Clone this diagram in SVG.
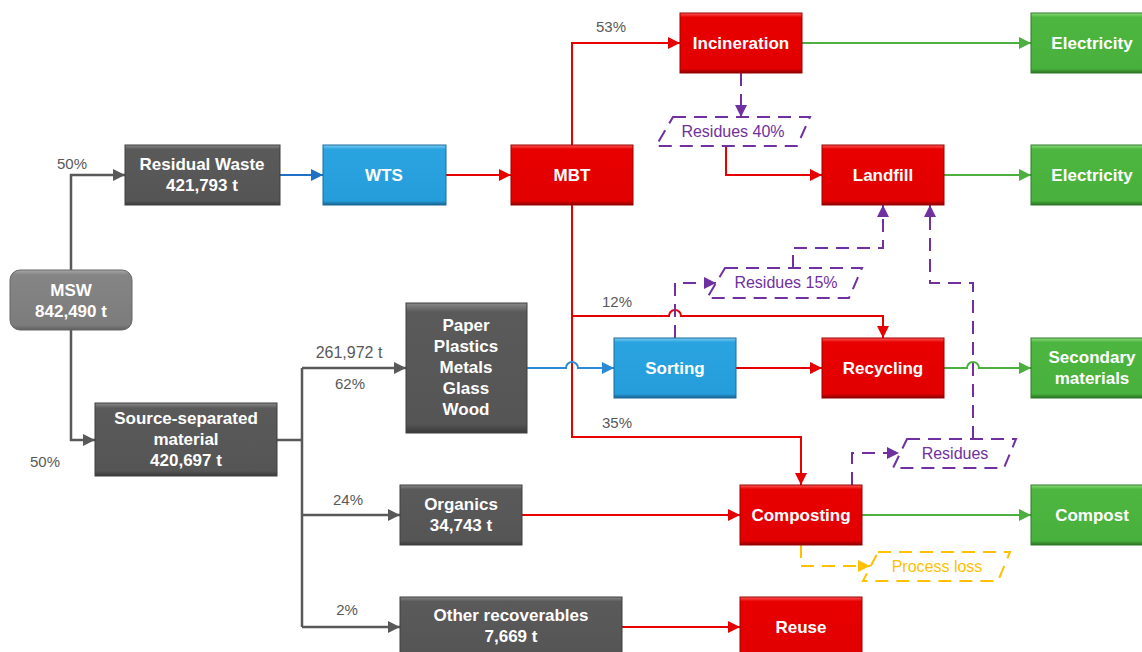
<svg xmlns="http://www.w3.org/2000/svg" width="1142" height="652" viewBox="0 0 1142 652">
<defs>
<linearGradient id="gGray" x1="0" y1="0" x2="0" y2="1">
<stop offset="0" stop-color="#8a8a8a"/><stop offset="0.07" stop-color="#5a5a5a"/><stop offset="0.93" stop-color="#555555"/><stop offset="1" stop-color="#3a3a3a"/>
</linearGradient>
<linearGradient id="gMsw" x1="0" y1="0" x2="0" y2="1">
<stop offset="0" stop-color="#a8a8a8"/><stop offset="0.08" stop-color="#858585"/><stop offset="0.92" stop-color="#7c7c7c"/><stop offset="1" stop-color="#5e5e5e"/>
</linearGradient>
<linearGradient id="gRed" x1="0" y1="0" x2="0" y2="1">
<stop offset="0" stop-color="#ff5a5a"/><stop offset="0.07" stop-color="#e80000"/><stop offset="0.93" stop-color="#e20000"/><stop offset="1" stop-color="#8a0000"/>
</linearGradient>
<linearGradient id="gBlue" x1="0" y1="0" x2="0" y2="1">
<stop offset="0" stop-color="#7fcdf2"/><stop offset="0.07" stop-color="#2aa4e0"/><stop offset="0.93" stop-color="#259ddb"/><stop offset="1" stop-color="#16628e"/>
</linearGradient>
<linearGradient id="gGreen" x1="0" y1="0" x2="0" y2="1">
<stop offset="0" stop-color="#8fdc80"/><stop offset="0.07" stop-color="#4db640"/><stop offset="0.93" stop-color="#48b03c"/><stop offset="1" stop-color="#2b7024"/>
</linearGradient>
<marker id="aGray" viewBox="0 0 10 10" refX="10" refY="5" markerWidth="13" markerHeight="12" markerUnits="userSpaceOnUse" orient="auto"><path d="M0,0 L10,5 L0,10 z" fill="#595959"/></marker>
<marker id="aRed" viewBox="0 0 10 10" refX="10" refY="5" markerWidth="13" markerHeight="12" markerUnits="userSpaceOnUse" orient="auto"><path d="M0,0 L10,5 L0,10 z" fill="#e60000"/></marker>
<marker id="aBlue" viewBox="0 0 10 10" refX="10" refY="5" markerWidth="13" markerHeight="12" markerUnits="userSpaceOnUse" orient="auto"><path d="M0,0 L10,5 L0,10 z" fill="#2a8ad6"/></marker>
<marker id="aBlueD" viewBox="0 0 10 10" refX="10" refY="5" markerWidth="13" markerHeight="12" markerUnits="userSpaceOnUse" orient="auto"><path d="M0,0 L10,5 L0,10 z" fill="#1f6fc5"/></marker>
<marker id="aGreen" viewBox="0 0 10 10" refX="10" refY="5" markerWidth="13" markerHeight="12" markerUnits="userSpaceOnUse" orient="auto"><path d="M0,0 L10,5 L0,10 z" fill="#4caf3f"/></marker>
<marker id="aPurple" viewBox="0 0 10 10" refX="10" refY="5" markerWidth="13" markerHeight="12" markerUnits="userSpaceOnUse" orient="auto"><path d="M0,0 L10,5 L0,10 z" fill="#7030a0"/></marker>
<marker id="aYellow" viewBox="0 0 10 10" refX="10" refY="5" markerWidth="13" markerHeight="12" markerUnits="userSpaceOnUse" orient="auto"><path d="M0,0 L10,5 L0,10 z" fill="#ffc000"/></marker>
</defs>
<style>
.gray{fill:url(#gGray);stroke:#3f3f3f;stroke-width:1}
.msw{fill:url(#gMsw);stroke:#666;stroke-width:1}
.red{fill:url(#gRed);stroke:#9a0000;stroke-width:1}
.blue{fill:url(#gBlue);stroke:#1a6c9c;stroke-width:1}
.green{fill:url(#gGreen);stroke:#2f7a28;stroke-width:1}
.nt{font-family:"Liberation Sans",Arial,sans-serif;font-weight:bold;font-size:17px;fill:#fff;text-anchor:middle}
.lbl{font-family:"Liberation Sans",Arial,sans-serif;font-size:15px;fill:#595959;text-anchor:middle}
.ptxt{font-family:"Liberation Sans",Arial,sans-serif;font-size:16px;fill:#7030a0;text-anchor:middle}
.ytxt{font-family:"Liberation Sans",Arial,sans-serif;font-size:16px;fill:#ffc000;text-anchor:middle}
.cg{fill:none;stroke:#595959;stroke-width:2.5}
.cr{fill:none;stroke:#e60000;stroke-width:2}
.cb{fill:none;stroke:#2a8ad6;stroke-width:2}
.cgr{fill:none;stroke:#4caf3f;stroke-width:2}
.cp{fill:none;stroke:#7030a0;stroke-width:2;stroke-dasharray:13 8}
.cy{fill:none;stroke:#ffc000;stroke-width:2;stroke-dasharray:13 8}
.pbox{fill:#fff;stroke:#7030a0;stroke-width:2;stroke-dasharray:13 8}
.ybox{fill:#fff;stroke:#ffc000;stroke-width:2;stroke-dasharray:13 8}
</style>
<rect width="1142" height="652" fill="#fff"/>
<g id="connectors">
<path class="cg" d="M71,270 V175 H125" marker-end="url(#aGray)"/>
<path class="cg" d="M71,330 V440 H95" marker-end="url(#aGray)"/>
<path class="cg" d="M277,440 H302 M302,368 V627"/>
<path class="cg" d="M302,368 H406" marker-end="url(#aGray)"/>
<path class="cg" d="M302,515 H400" marker-end="url(#aGray)"/>
<path class="cg" d="M302,627 H400" marker-end="url(#aGray)"/>
<path class="cb" style="stroke:#1f6fc5" d="M280,175 H323" marker-end="url(#aBlueD)"/>
<path class="cr" d="M446,175 H511" marker-end="url(#aRed)"/>
<path class="cr" d="M572,145 V43 H680" marker-end="url(#aRed)"/>
<path class="cr" d="M726,146 V175 H822" marker-end="url(#aRed)"/>
<path class="cr" d="M572,205 V437 H801 V485" marker-end="url(#aRed)"/>
<path class="cr" d="M572,316 H669 a6,6 0 0 1 12,0 H883 V338" marker-end="url(#aRed)"/>
<path class="cb" d="M527,368 H566 a6,6 0 0 1 12,0 H614" marker-end="url(#aBlue)"/>
<path class="cr" d="M736,368 H822" marker-end="url(#aRed)"/>
<path class="cr" d="M522,515 H740" marker-end="url(#aRed)"/>
<path class="cr" d="M622,627 H740" marker-end="url(#aRed)"/>
<path class="cgr" d="M802,43 H1031" marker-end="url(#aGreen)"/>
<path class="cgr" d="M944,175 H1031" marker-end="url(#aGreen)"/>
<path class="cgr" d="M944,368 H967 a6,6 0 0 1 12,0 H1031" marker-end="url(#aGreen)"/>
<path class="cgr" d="M862,515 H1031" marker-end="url(#aGreen)"/>
<path class="cp" d="M741,73 V117" marker-end="url(#aPurple)"/>
<path class="cp" d="M675,338 V283 H716" marker-end="url(#aPurple)"/>
<path class="cp" d="M793,268 V248 H883 V205" marker-end="url(#aPurple)"/>
<path class="cp" d="M852,485 V453 H899" marker-end="url(#aPurple)"/>
<path class="cp" d="M973,439 V283 H930 V205" marker-end="url(#aPurple)"/>
<path class="cy" d="M801,545 V566 H870" marker-end="url(#aYellow)"/>
<text class="lbl" x="72" y="169">50%</text>
<text class="lbl" x="45" y="467">50%</text>
<text class="lbl" x="611" y="32">53%</text>
<text class="lbl" x="617" y="307">12%</text>
<text class="lbl" x="617" y="428">35%</text>
<text class="lbl" x="349" y="358" style="font-size:16px">261,972 t</text>
<text class="lbl" x="350" y="389">62%</text>
<text class="lbl" x="348" y="505">24%</text>
<text class="lbl" x="347" y="615">2%</text>
</g>
<g id="msw"><rect class="msw" x="10" y="270" width="122" height="60" rx="10"/><text class="nt" x="71" y="296">MSW</text><text class="nt" x="71" y="317">842,490 t</text></g>
<g id="residual"><rect class="gray" x="125" y="145" width="155" height="60"/><text class="nt" x="202" y="170">Residual Waste</text><text class="nt" x="202" y="191">421,793 t</text></g>
<g id="wts"><rect class="blue" x="323" y="145" width="123" height="60"/><text class="nt" x="384" y="181">WTS</text></g>
<g id="mbt"><rect class="red" x="511" y="145" width="122" height="60"/><text class="nt" x="572" y="181">MBT</text></g>
<g id="incineration"><rect class="red" x="680" y="13" width="122" height="60"/><text class="nt" x="741" y="49">Incineration</text></g>
<g id="electricity1"><rect class="green" x="1031" y="13" width="122" height="60"/><text class="nt" x="1092" y="49">Electricity</text></g>
<g id="landfill"><rect class="red" x="822" y="145" width="122" height="60"/><text class="nt" x="883" y="181">Landfill</text></g>
<g id="electricity2"><rect class="green" x="1031" y="145" width="122" height="60"/><text class="nt" x="1092" y="181">Electricity</text></g>
<g id="residues40"><polygon class="pbox" points="673,117 810,117 797,146 656,146"/><text class="ptxt" x="733" y="137">Residues 40%</text></g>
<g id="residues15"><polygon class="pbox" points="725,268 862,268 849,298 707,298"/><text class="ptxt" x="786" y="288">Residues 15%</text></g>
<g id="residues"><polygon class="pbox" points="907,439 1016,439 1004,468 893,468"/><text class="ptxt" x="955" y="459">Residues</text></g>
<g id="processloss"><polygon class="ybox" points="878,552 1010,552 998,581 863,581"/><text class="ytxt" x="937" y="572">Process loss</text></g>
<g id="paper"><rect class="gray" x="406" y="303" width="121" height="130"/><text class="nt" x="466" y="331">Paper</text><text class="nt" x="466" y="352">Plastics</text><text class="nt" x="466" y="373">Metals</text><text class="nt" x="466" y="394">Glass</text><text class="nt" x="466" y="415">Wood</text></g>
<g id="sorting"><rect class="blue" x="614" y="338" width="122" height="60"/><text class="nt" x="675" y="374">Sorting</text></g>
<g id="recycling"><rect class="red" x="822" y="338" width="122" height="60"/><text class="nt" x="883" y="374">Recycling</text></g>
<g id="secondary"><rect class="green" x="1031" y="338" width="122" height="60"/><text class="nt" x="1092" y="363">Secondary</text><text class="nt" x="1092" y="384">materials</text></g>
<g id="source"><rect class="gray" x="95" y="403" width="182" height="73"/><text class="nt" x="186" y="424">Source-separated</text><text class="nt" x="186" y="445">material</text><text class="nt" x="186" y="466">420,697 t</text></g>
<g id="organics"><rect class="gray" x="400" y="485" width="122" height="60"/><text class="nt" x="461" y="510">Organics</text><text class="nt" x="461" y="531">34,743 t</text></g>
<g id="composting"><rect class="red" x="740" y="485" width="122" height="60"/><text class="nt" x="801" y="521">Composting</text></g>
<g id="compost"><rect class="green" x="1031" y="485" width="122" height="60"/><text class="nt" x="1092" y="521">Compost</text></g>
<g id="other"><rect class="gray" x="400" y="597" width="222" height="62"/><text class="nt" x="511" y="621">Other recoverables</text><text class="nt" x="511" y="642">7,669 t</text></g>
<g id="reuse"><rect class="red" x="740" y="597" width="122" height="62"/><text class="nt" x="801" y="633">Reuse</text></g>
</svg>
